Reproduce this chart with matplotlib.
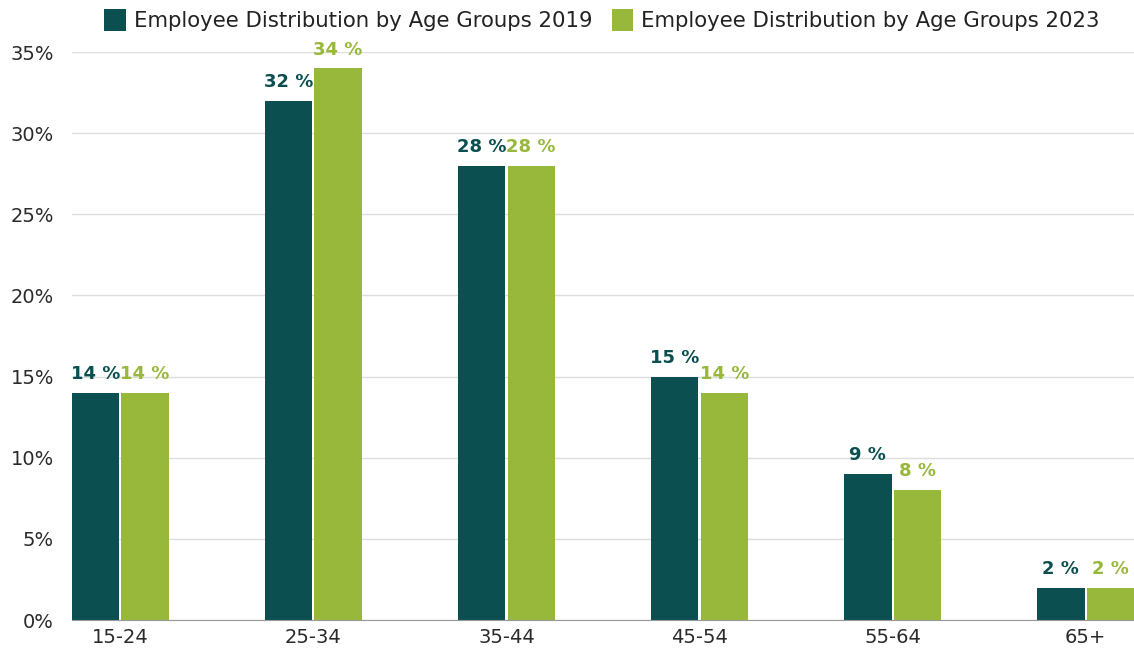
import matplotlib.pyplot as plt
import numpy as np

age_groups = ["15-24", "25-34", "35-44", "45-54", "55-64", "65+"]
share_2019 = [14, 32, 28, 15, 9, 2]
share_2023 = [14, 34, 28, 14, 8, 2]
y_ticks = [0, 5, 10, 15, 20, 25, 30, 35]

teal = "#0b4f50"
lime = "#98b83b"

plt.rcParams['font.family'] = ['DejaVu Sans']

fig = plt.figure(figsize=(11.34, 6.55), dpi=100)
ax = fig.add_axes([72 / 1134, 35 / 655, 1062 / 1134, 568 / 655])

x = np.arange(len(age_groups))
w = 0.245
off = 0.128
b1 = ax.bar(x - off, share_2019, w, color=teal, label="Employee Distribution by Age Groups 2019")
b2 = ax.bar(x + off, share_2023, w, color=lime, label="Employee Distribution by Age Groups 2023")

# value labels above each bar, in the bar's colour
for bars, vals, col in [(b1, share_2019, teal), (b2, share_2023, lime)]:
    for rect, v in zip(bars, vals):
        ax.annotate(f"{v} %", (rect.get_x() + rect.get_width() / 2, v),
                    xytext=(0, 7), textcoords="offset points",
                    ha="center", va="bottom", fontsize=13, fontweight="bold", color=col)

ax.set_xlim(-off - w / 2, len(age_groups) - 1 + off + w / 2)
ax.set_ylim(0, 35)
ax.set_yticks(y_ticks)
ax.set_yticklabels([f"{t}%" for t in y_ticks])
ax.set_xticks(x)
ax.set_xticklabels(age_groups)
ax.tick_params(axis="both", length=0, labelsize=14, colors="#2a2a2a")
ax.tick_params(axis="y", pad=13)
ax.tick_params(axis="x", pad=6)

ax.yaxis.grid(True, color="#dddddd", linewidth=1)
ax.set_axisbelow(True)
for s in ["top", "right", "left"]:
    ax.spines[s].set_visible(False)
ax.spines["bottom"].set_color("#999999")

fig.legend(handles=[b1, b2], loc="upper center", bbox_to_anchor=(0.531, 1.015), ncol=2,
           frameon=False, fontsize=15.3, handlelength=1.0, handleheight=1.2,
           handletextpad=0.4, columnspacing=0.9, labelcolor="#222222")

fig.savefig("out.png", dpi=100)
